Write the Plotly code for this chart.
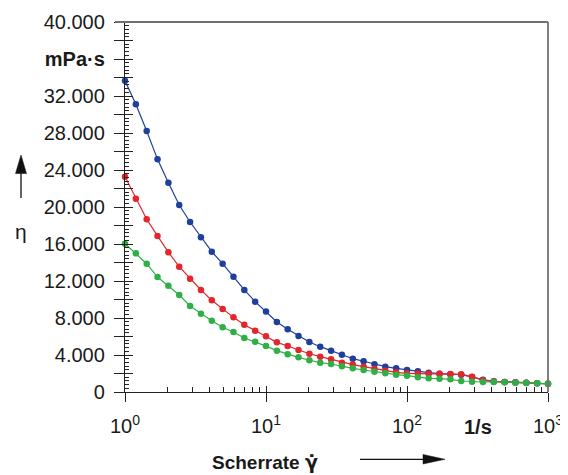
import plotly.graph_objects as go

# Shear rate (1/s), 13 points per decade
shear_rate = [1, 1.194, 1.425, 1.701, 2.031, 2.424, 2.894, 3.455, 4.125, 4.924, 5.878, 7.017, 8.377,
              10, 11.94, 14.25, 17.01, 20.31, 24.24, 28.94, 34.55, 41.25, 49.24, 58.78, 70.17, 83.77,
              100, 119.4, 142.5, 170.1, 203.1, 242.4, 289.4, 345.5, 412.5, 492.4, 587.8, 701.7, 837.7,
              1000]

# Viscosity (mPa·s)
eta_blue = [33650, 31100, 28220, 25150, 22630, 20220, 18380, 16720, 15170, 13870, 12470, 11030, 9770,
            8700, 7570, 6780, 6050, 5400, 4900, 4470, 4040, 3600, 3320, 2990, 2740, 2560,
            2380, 2240, 2090, 1980, 1910, 1875, 1620, 1330, 1155, 1080, 1045, 1010, 940, 900]
eta_red = [23280, 20900, 18670, 16870, 15100, 13550, 12250, 11030, 9910, 8970, 8070, 7280, 6630,
           6020, 5370, 4970, 4540, 4140, 3820, 3530, 3170, 2960, 2740, 2520, 2310, 2130,
           2020, 2000, 1980, 1980, 1950, 1910, 1655, 1265, 1140, 1070, 1030, 1000, 935, 880]
eta_green = [16030, 14990, 13870, 12430, 11490, 10490, 9300, 8470, 7710, 6990, 6490, 5840, 5440,
             4960, 4470, 4080, 3750, 3430, 3170, 3030, 2780, 2560, 2380, 2200, 2020, 1875,
             1765, 1590, 1480, 1440, 1370, 1190, 1115, 1080, 1080, 1045, 1010, 980, 940, 900]

series = [("blue", eta_blue, "#1f3f9c"), ("red", eta_red, "#e3262b"), ("green", eta_green, "#2fb046")]

x_tickvals = [1, 10, 100, 1000]
x_ticktext = ["10<sup>0</sup>", "10<sup>1</sup>", "10<sup>2</sup>", "10<sup>3</sup>"]
x_minor = [2, 3, 4, 5, 6, 7, 8, 9, 20, 30, 40, 50, 60, 70, 80, 90, 200, 300, 400, 500, 600, 700, 800, 900]

y_tickvals = list(range(0, 40001, 2000))
y_ticktext = ["0", "", "4.000", "", "8.000", "", "12.000", "", "16.000", "", "20.000", "",
              "24.000", "", "28.000", "", "32.000", "", "<b>mPa·s</b>", "", "40.000"]

FONT = "Liberation Sans, Arial, sans-serif"

fig = go.Figure()
for name, vals, col in series:
    fig.add_trace(go.Scatter(x=shear_rate, y=vals, mode="lines+markers", name=name,
                             line=dict(color=col, width=1.2),
                             marker=dict(color=col, size=6.5),
                             cliponaxis=False, showlegend=False))

# invisible trace to activate overlay axes
fig.add_trace(go.Scatter(x=[1], y=[0], xaxis="x2", yaxis="y2", mode="markers",
                         marker=dict(opacity=0), showlegend=False, hoverinfo="skip"))

# page body has an 8px margin; work in page pixel coordinates
OFF = 8
W, H = 568 - OFF, 475 - OFF
PL, PR, PT, PB = 125, 548, 22, 392  # plot area in page pixels
L, T = PL - OFF, PT - OFF
R, B = W - (PR - OFF), H - (PB - OFF)
pw, ph = PR - PL, PB - PT

def px(x):
    return (x - PL) / pw

def py(y):
    return (PB - y) / ph

fig.update_layout(
    width=W, height=H,
    margin=dict(l=L, r=R, t=T, b=B, autoexpand=False),
    paper_bgcolor="white", plot_bgcolor="white",
    font=dict(family=FONT, size=20, color="#1a1a1a"),
    xaxis=dict(type="log", range=[0, 3], showgrid=False, zeroline=False, automargin=False,
               showline=True, linecolor="#222", linewidth=1.3,
               tickmode="array", tickvals=x_tickvals, ticktext=x_ticktext,
               ticks="outside", ticklen=9, tickcolor="#222", tickwidth=1.3,
               ticklabelstandoff=7,
               minor=dict(tickmode="array", tickvals=x_minor, ticks="inside", ticklen=5,
                          tickcolor="#222", tickwidth=1, showgrid=False),
               tickfont=dict(size=20, family=FONT)),
    yaxis=dict(range=[0, 40000], showgrid=False, zeroline=False, automargin=False,
               showline=True, linecolor="#222", linewidth=1.3,
               tickmode="array", tickvals=y_tickvals, ticktext=y_ticktext,
               ticks="outside", ticklen=10, tickcolor="#222", tickwidth=1.2,
               ticklabelstandoff=5,
               minor=dict(dtick=400, ticks="inside", ticklen=4, tickcolor="#222", tickwidth=1,
                          showgrid=False),
               tickfont=dict(size=20, family=FONT)),
    xaxis2=dict(type="log", range=[0, 3], overlaying="x", side="bottom", anchor="y",
                showgrid=False, zeroline=False, showline=False, automargin=False,
                tickmode="array", tickvals=x_tickvals, ticks="inside", ticklen=6,
                tickcolor="#222", tickwidth=1.3, showticklabels=False),
    yaxis2=dict(range=[0, 40000], overlaying="y", side="left", anchor="x",
                showgrid=False, zeroline=False, showline=False, automargin=False,
                tickmode="array", tickvals=y_tickvals, ticks="inside", ticklen=8,
                tickcolor="#222", tickwidth=1.2, showticklabels=False),
)

# top and right frame lines (gray)
fig.add_shape(type="line", xref="paper", yref="paper", x0=px(115), x1=1, y0=1, y1=1,
              line=dict(color="#707070", width=1.8))
fig.add_shape(type="line", xref="paper", yref="paper", x0=1, x1=1, y0=0, y1=1,
              line=dict(color="#707070", width=1.8))

# axis unit "1/s"
fig.add_annotation(xref="paper", yref="paper", x=px(477.5), y=py(427), text="<b>1/s</b>",
                   showarrow=False, font=dict(size=20, family=FONT, color="#1a1a1a"),
                   xanchor="center", yanchor="middle")
# x title
fig.add_annotation(xref="paper", yref="paper", x=px(320), y=py(462),
                   text="<b>Scherrate <span style=\"font-family:'DejaVu Sans'\">γ̇</span></b>",
                   showarrow=False, font=dict(size=19, family=FONT, color="#1a1a1a"),
                   xanchor="right", yanchor="middle")
# y title
fig.add_annotation(xref="paper", yref="paper", x=px(21), y=py(231), text="η",
                   showarrow=False, font=dict(size=21, family=FONT, color="#1a1a1a"),
                   xanchor="center", yanchor="middle")

# arrows
fig.add_shape(type="line", xref="paper", yref="paper", x0=px(360), x1=px(425), y0=py(459.3), y1=py(459.3),
              line=dict(color="#111", width=1.3))
fig.add_shape(type="path", xref="paper", yref="paper",
              path=f"M {px(423)} {py(454.5)} L {px(445)} {py(459.3)} L {px(423)} {py(464)} Z",
              fillcolor="#111", line=dict(color="#111", width=0.5))
fig.add_shape(type="line", xref="paper", yref="paper", x0=px(21), x1=px(21), y0=py(198), y1=py(172),
              line=dict(color="#111", width=1.3))
fig.add_shape(type="path", xref="paper", yref="paper",
              path=f"M {px(15.5)} {py(173.5)} L {px(21)} {py(155)} L {px(26.5)} {py(173.5)} Z",
              fillcolor="#111", line=dict(color="#111", width=0.5))

fig.write_html("out.html")
